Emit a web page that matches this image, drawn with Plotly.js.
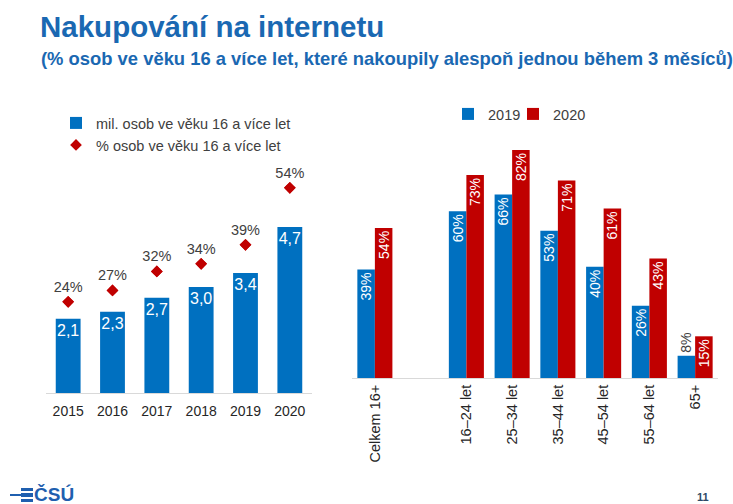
<!DOCTYPE html>
<html><head><meta charset="utf-8">
<script src="https://cdn.plot.ly/plotly-3.0.1.min.js"></script>
<style>html,body{margin:0;padding:0;background:#fff}#chart{width:733px;height:504px}</style>
</head><body><div id="chart"></div>
<script>
// ---- data ----
const years = ['2015', '2016', '2017', '2018', '2019', '2020'];
const millions = [2.1, 2.3, 2.7, 3.0, 3.4, 4.7];
const sharePct = [24, 27, 32, 34, 39, 54];

const ageGroups = ['Celkem 16+', ' ', '16–24 let', '25–34 let', '35–44 let', '45–54 let', '55–64 let', '65+'];
const pct2019 = [39, null, 60, 66, 53, 40, 26, 8];
const pct2020 = [54, null, 73, 82, 71, 61, 43, 15];

const leftNames = ['mil. osob ve věku 16 a více let', '% osob ve věku 16 a více let'];
const rightNames = ['2019', '2020'];

// ---- styles ----
const W = 733, H = 504;
const px = x => x / W, py = y => 1 - y / H;
const BLUE = '#0070C0', RED = '#C00000', TITLE = '#1A68B2', TXT = '#404040';
const FONT = '"Liberation Sans", Arial, sans-serif';

const fmtDec = v => v.toFixed(1).replace('.', ',');
const fmtPct = v => v == null ? '' : v + '%';
const posFor = v => (v != null && v < 12) ? 'outside' : 'inside';

const traces = [
  {
    type: 'bar', x: years, y: millions, xaxis: 'x', yaxis: 'y',
    name: leftNames[0], legend: 'legend',
    marker: {color: BLUE}, width: 0.56,
    text: millions.map(fmtDec), textposition: 'inside', insidetextanchor: 'end',
    textangle: 0, constraintext: 'none',
    insidetextfont: {size: 16, color: '#ffffff', family: FONT},
    hoverinfo: 'skip'
  },
  {
    type: 'scatter', mode: 'markers+text', x: years, y: sharePct, xaxis: 'x', yaxis: 'y2',
    name: leftNames[1], showlegend: false, cliponaxis: false,
    marker: {symbol: 'diamond', size: 9, color: RED},
    text: sharePct.map(fmtPct), textposition: 'top center',
    textfont: {size: 14.5, color: TXT, family: FONT},
    hoverinfo: 'skip'
  },
  {
    type: 'scatter', mode: 'markers', x: years, y: sharePct, xaxis: 'x', yaxis: 'y2',
    name: leftNames[1], legend: 'legend4', cliponaxis: false,
    marker: {symbol: 'diamond', size: 9, color: RED},
    hoverinfo: 'skip'
  },
  {
    type: 'bar', x: ageGroups, y: pct2019, xaxis: 'x2', yaxis: 'y3',
    name: rightNames[0], legend: 'legend2',
    marker: {color: BLUE}, width: 0.383, offset: -0.383,
    text: pct2019.map(fmtPct), textposition: pct2019.map(posFor),
    insidetextanchor: 'end', textangle: -90, constraintext: 'none', cliponaxis: false,
    insidetextfont: {size: 14, color: '#ffffff', family: FONT},
    outsidetextfont: {size: 14, color: TXT, family: FONT},
    hoverinfo: 'skip'
  },
  {
    type: 'bar', x: ageGroups, y: pct2020, xaxis: 'x2', yaxis: 'y3',
    name: rightNames[1], legend: 'legend3',
    marker: {color: RED}, width: 0.383, offset: 0,
    text: pct2020.map(fmtPct), textposition: pct2020.map(posFor),
    insidetextanchor: 'end', textangle: -90, constraintext: 'none', cliponaxis: false,
    insidetextfont: {size: 14, color: '#ffffff', family: FONT},
    outsidetextfont: {size: 14, color: TXT, family: FONT},
    hoverinfo: 'skip'
  }
];

const leftTop = 163, leftBase = 393, rightTop = 130, rightBase = 378;

function legendAt(x, y) {
  return {
    x: px(x), xanchor: 'left', xref: 'paper',
    y: py(y), yanchor: 'middle', yref: 'paper',
    orientation: 'v', bgcolor: 'rgba(0,0,0,0)', borderwidth: 0,
    font: {size: 14.5, color: TXT, family: FONT},
    itemclick: false, itemdoubleclick: false
  };
}

const layout = {
  width: W, height: H,
  margin: {l: 0, r: 0, t: 0, b: 0},
  paper_bgcolor: '#ffffff', plot_bgcolor: 'rgba(0,0,0,0)',
  font: {family: FONT, color: TXT, size: 14.5},
  barmode: 'group',
  showlegend: true,
  title: {
    text: '<b>Nakupování na internetu</b>',
    x: px(40), xanchor: 'left', xref: 'paper',
    y: py(27), yanchor: 'middle', yref: 'paper',
    font: {size: 29.5, color: TITLE, family: FONT}
  },
  xaxis: {
    domain: [px(46), px(312)], anchor: 'y', type: 'category',
    showline: true, linecolor: '#d9d9d9', linewidth: 1,
    ticks: '', showgrid: false, zeroline: false, fixedrange: true,
    ticklabelstandoff: 5,
    tickfont: {size: 14, color: '#262626'}
  },
  yaxis: {
    domain: [py(leftBase), py(leftTop)], anchor: 'x',
    range: [0, (leftBase - leftTop) / 35.3], visible: false, fixedrange: true
  },
  yaxis2: {
    overlaying: 'y', anchor: 'x',
    range: [0, (leftBase - leftTop) / 3.8], visible: false, fixedrange: true
  },
  xaxis2: {
    domain: [px(352), px(718)], anchor: 'y3', type: 'category',
    categoryorder: 'array', categoryarray: ageGroups, range: [-0.5, ageGroups.length - 0.5],
    showline: true, linecolor: '#d9d9d9', linewidth: 1,
    ticks: '', showgrid: false, zeroline: false, fixedrange: true,
    tickangle: -90, tickfont: {size: 14.5, color: '#262626'}
  },
  yaxis3: {
    domain: [py(rightBase), py(rightTop)], anchor: 'x2',
    range: [0, (rightBase - rightTop) / 2.78], visible: false, fixedrange: true
  },
  legend: legendAt(56, 123),
  legend4: legendAt(56, 145),
  legend2: legendAt(448, 114),
  legend3: legendAt(513, 114),
  annotations: [
    {
      text: '<b>(% osob ve věku 16 a více let, které nakoupily alespoň jednou během 3 měsíců)</b>',
      xref: 'paper', yref: 'paper', x: px(39), y: py(58), xanchor: 'left', yanchor: 'middle',
      showarrow: false, font: {size: 18.4, color: TITLE, family: FONT}
    },
    {
      text: '<b>ČSÚ</b>', xref: 'paper', yref: 'paper', x: px(32), y: py(494),
      xanchor: 'left', yanchor: 'middle', showarrow: false,
      font: {size: 19, color: '#1F5FAF', family: FONT}
    },
    {
      text: '<b>11</b>', xref: 'paper', yref: 'paper', x: px(703), y: py(497),
      xanchor: 'center', yanchor: 'middle', showarrow: false,
      font: {size: 11, color: '#2E4A66', family: FONT}
    }
  ],
  shapes: [
    {type: 'line', xref: 'paper', yref: 'paper', x0: px(10), x1: px(24), y0: py(495), y1: py(495),
     line: {color: '#1F5FAF', width: 2}},
    {type: 'rect', xref: 'paper', yref: 'paper', x0: px(21), x1: px(33), y0: py(491), y1: py(488),
     fillcolor: '#1F5FAF', line: {width: 0}},
    {type: 'rect', xref: 'paper', yref: 'paper', x0: px(21), x1: px(33), y0: py(497), y1: py(493),
     fillcolor: '#1F5FAF', line: {width: 0}},
    {type: 'rect', xref: 'paper', yref: 'paper', x0: px(21), x1: px(33), y0: py(502), y1: py(499),
     fillcolor: '#1F5FAF', line: {width: 0}}
  ]
};

Plotly.newPlot('chart', traces, layout, {displayModeBar: false, staticPlot: true});
</script>
</body></html>
